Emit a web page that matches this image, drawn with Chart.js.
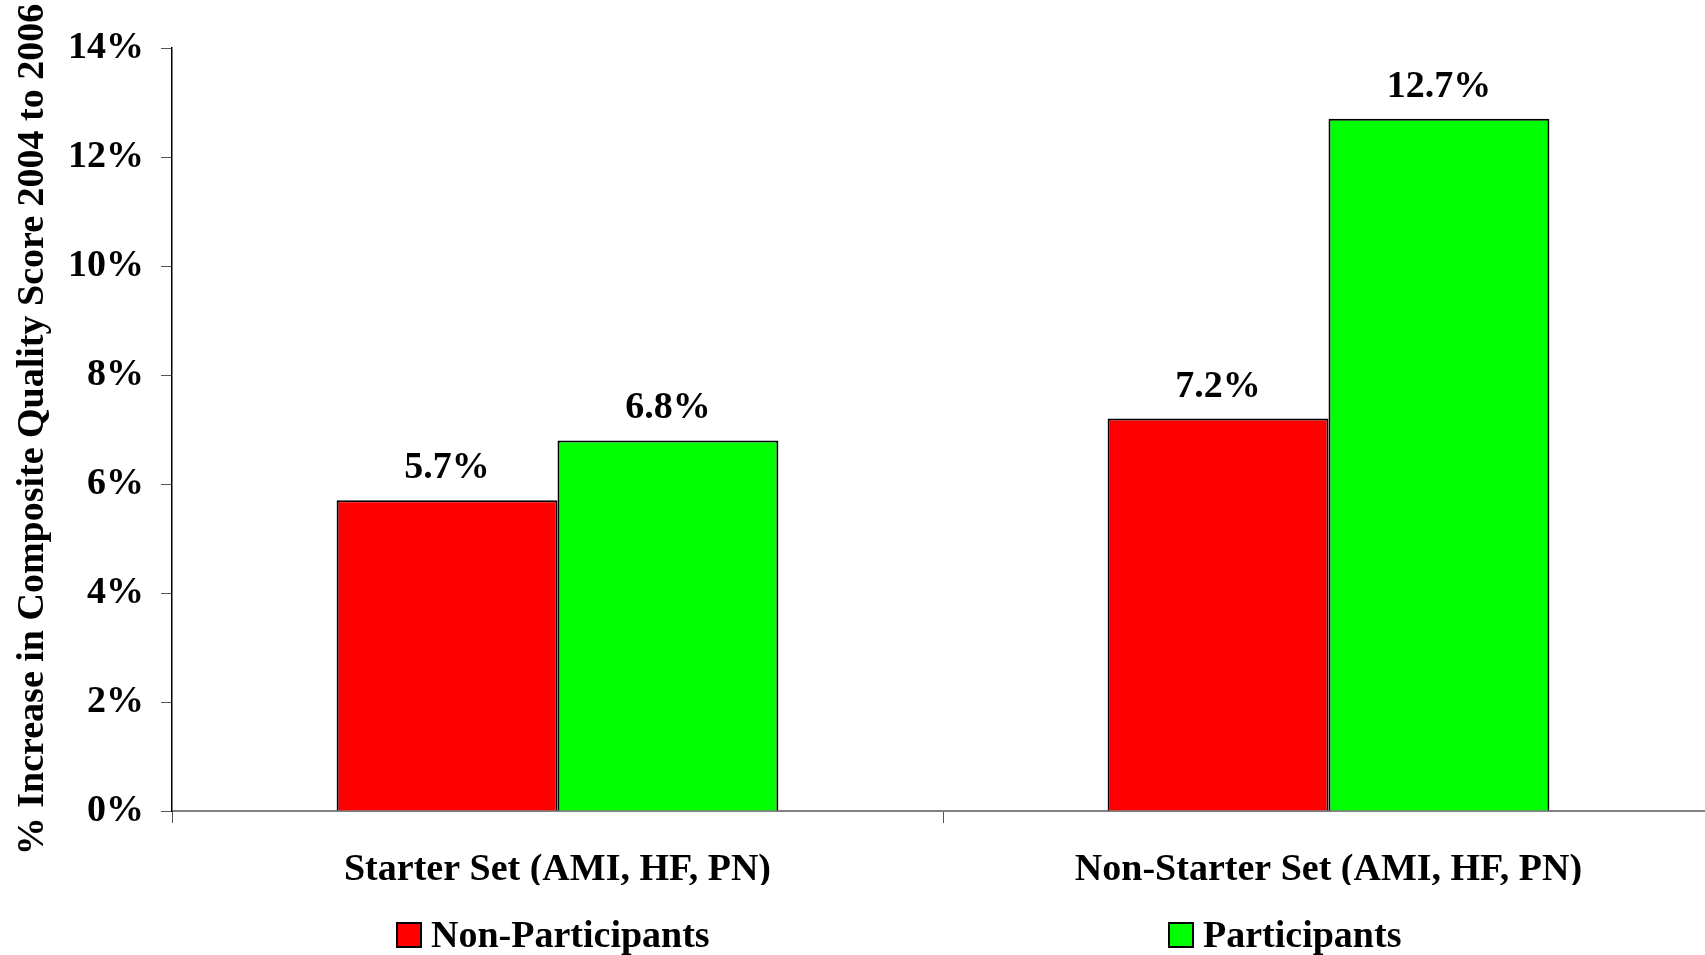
<!DOCTYPE html>
<html>
<head>
<meta charset="utf-8">
<script src="https://cdn.jsdelivr.net/npm/chart.js@4.4.0/dist/chart.umd.min.js"></script>
<style>
  html, body { margin: 0; padding: 0; background: #fff; overflow: hidden; }
  #wrap { width: 1716px; height: 955px; }
</style>
</head>
<body>
<div id="wrap"><canvas id="c" width="1716" height="955"></canvas></div>
<script>
// Categories, series and tick labels
const categories = ['Starter Set (AMI, HF, PN)', 'Non-Starter Set (AMI, HF, PN)'];
const seriesNames = ['Non-Participants', 'Participants'];
const nonParticipants = [5.7, 7.2];
const participants = [6.8, 12.7];
const seriesColors = ['#ff0000', '#00ff00'];
const yTicks = [0, 2, 4, 6, 8, 10, 12, 14];
const yTitle = '% Increase in Composite Quality Score 2004 to 2006';

const FONT = "'Liberation Serif', 'Times New Roman', serif";
const SIZE = 38;

// Value labels above each bar
const valueLabels = {
  id: 'valueLabels',
  afterDatasetsDraw(chart) {
    const ctx = chart.ctx;
    ctx.save();
    ctx.font = 'bold ' + SIZE + 'px ' + FONT;
    ctx.fillStyle = '#000';
    ctx.textAlign = 'center';
    ctx.textBaseline = 'alphabetic';
    chart.data.datasets.forEach((ds, i) => {
      chart.getDatasetMeta(i).data.forEach((bar, j) => {
        ctx.fillText(ds.data[j].toFixed(1) + '%', bar.x, bar.y - 22);
      });
    });
    ctx.restore();
  }
};

// Legend row along the bottom
const bottomLegend = {
  id: 'bottomLegend',
  afterDraw(chart) {
    const ctx = chart.ctx;
    const xs = [397, 1169];
    const cy = 935;
    ctx.save();
    ctx.font = 'bold ' + SIZE + 'px ' + FONT;
    ctx.textBaseline = 'middle';
    ctx.textAlign = 'left';
    chart.data.datasets.forEach((ds, i) => {
      const x = xs[i];
      ctx.fillStyle = ds.backgroundColor;
      ctx.fillRect(x, cy - 12, 24, 24);
      ctx.lineWidth = 2;
      ctx.strokeStyle = '#000';
      ctx.strokeRect(x, cy - 12, 24, 24);
      ctx.fillStyle = '#000';
      ctx.fillText(ds.label, x + 34, cy + 2);
    });
    ctx.restore();
  }
};

new Chart(document.getElementById('c'), {
  type: 'bar',
  data: {
    labels: categories,
    datasets: [
      { label: seriesNames[0], data: nonParticipants, backgroundColor: seriesColors[0], borderColor: '#000', borderWidth: 2 },
      { label: seriesNames[1], data: participants, backgroundColor: seriesColors[1], borderColor: '#000', borderWidth: 2 }
    ]
  },
  options: {
    responsive: false,
    animation: false,
    layout: { padding: { top: 48, right: 2, bottom: 70, left: 0 } },
    datasets: { bar: { barPercentage: 1.0, categoryPercentage: 0.573 } },
    plugins: {
      legend: { display: false },
      tooltip: { enabled: false }
    },
    scales: {
      x: {
        afterFit(s) { s.height = 74; },
        grid: { offset: true, drawOnChartArea: false, drawTicks: true, tickLength: 12, color: '#555', lineWidth: 1 },
        border: { display: true, color: '#808080', width: 2 },
        ticks: { padding: 24, color: '#000', font: { family: FONT, size: SIZE, weight: 'bold' }, maxRotation: 0 }
      },
      y: {
        min: 0,
        max: 14,
        afterFit(s) { s.width = 172; },
        afterBuildTicks(s) { s.ticks = yTicks.map(v => ({ value: v })); },
        grid: { drawOnChartArea: false, drawTicks: true, tickLength: 11, color: '#555', lineWidth: 1 },
        border: { display: true, color: '#000', width: 1.5 },
        ticks: {
          padding: 17,
          color: '#000',
          font: { family: FONT, size: SIZE, weight: 'bold' },
          callback: v => v + '%'
        },
        title: {
          display: true,
          text: yTitle,
          color: '#000',
          padding: { top: 10, bottom: 0 },
          font: { family: FONT, size: SIZE, weight: 'bold' }
        }
      }
    }
  },
  plugins: [valueLabels, bottomLegend]
});
</script>
</body>
</html>
